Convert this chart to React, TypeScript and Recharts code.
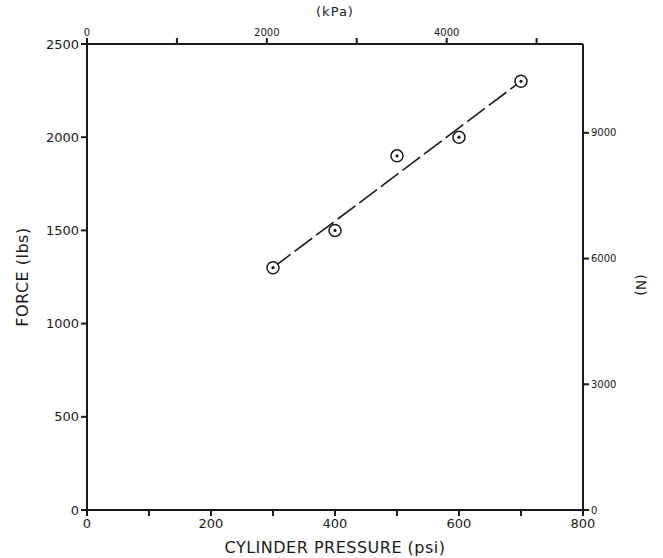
import React from 'react';
import { ScatterChart, Scatter, XAxis, YAxis, Label } from 'recharts';

const pressurePsi = [300, 400, 500, 600, 700];
const forceLbs = [1300, 1500, 1900, 2000, 2300];

const psiTicks = [0, 100, 200, 300, 400, 500, 600, 700, 800];
const psiLabeled = [0, 200, 400, 600, 800];
const kpaTicks = [0, 1000, 2000, 3000, 4000, 5000];
const kpaLabeled = [0, 2000, 4000];
const lbsTicks = [0, 500, 1000, 1500, 2000, 2500];
const newtonTicks = [0, 3000, 6000, 9000];

const PSI_TO_KPA = 6.895;
const LB_TO_N = 4.448;
const PSI_MAX = 800;
const LBS_MAX = 2500;

const points = pressurePsi.map((x, i) => ({ x, y: forceLbs[i] }));
// same measurements in SI units (drawn invisibly so the SI axes are bound)
const pointsSI = pressurePsi.map((x, i) => ({ x: x * PSI_TO_KPA, y: forceLbs[i] * LB_TO_N }));

// least-squares fit line through the measured points
const n = pressurePsi.length;
const mx = pressurePsi.reduce((a, b) => a + b, 0) / n;
const my = forceLbs.reduce((a, b) => a + b, 0) / n;
let sxy = 0;
let sxx = 0;
pressurePsi.forEach((x, i) => {
  sxy += (x - mx) * (forceLbs[i] - my);
  sxx += (x - mx) * (x - mx);
});
const slope = sxy / sxx;
const intercept = my - slope * mx;
const xMin = Math.min(...pressurePsi);
const xMax = Math.max(...pressurePsi);
const fitLine = [
  { x: xMin, y: intercept + slope * xMin },
  { x: xMax, y: intercept + slope * xMax },
];

const FONT = '"DejaVu Sans", "Liberation Sans", sans-serif';
const INK = '#1a1a1a';

const Marker = (props: any) => {
  const { cx, cy } = props;
  if (cx == null || cy == null) return null;
  return (
    <g>
      <circle cx={cx} cy={cy} r={6} fill="#fff" stroke={INK} strokeWidth={1.5} />
      <circle cx={cx} cy={cy} r={1.6} fill={INK} />
    </g>
  );
};

const NoShape = () => <g />;

const axisLine = { stroke: INK, strokeWidth: 2 };
const tickLine = { stroke: INK, strokeWidth: 2 };

export default function App() {
  return (
    <div style={{ position: 'absolute', left: 0, top: 0, background: '#fff' }}>
      <ScatterChart
        width={663}
        height={558}
        margin={{ top: 0, right: 0, bottom: 0, left: 0 }}
      >
        <XAxis
          xAxisId="psi"
          dataKey="x"
          type="number"
          domain={[0, PSI_MAX]}
          ticks={psiTicks}
          interval={0}
          height={48}
          axisLine={axisLine}
          tickLine={tickLine}
          tickSize={6}
          tickMargin={3}
          tickFormatter={(v: number) => (psiLabeled.includes(v) ? String(v) : '')}
          tick={{ fontSize: 13, fill: INK, fontFamily: FONT }}
        >
          <Label
            value="CYLINDER PRESSURE (psi)"
            position="insideBottom"
            offset={5}
            style={{ fontSize: 16, fill: INK, fontFamily: FONT, letterSpacing: 0.5 }}
          />
        </XAxis>
        <XAxis
          xAxisId="kpa"
          dataKey="x"
          orientation="top"
          type="number"
          domain={[0, PSI_MAX * PSI_TO_KPA]}
          allowDataOverflow
          ticks={kpaTicks}
          interval={0}
          height={44}
          axisLine={axisLine}
          tickLine={tickLine}
          tickSize={6}
          tickMargin={2}
          tickFormatter={(v: number) => (kpaLabeled.includes(v) ? String(v) : '')}
          tick={{ fontSize: 10, fill: INK, fontFamily: FONT }}
        >
          <Label
            value="(kPa)"
            position="insideTop"
            offset={7}
            style={{ fontSize: 13, fill: INK, fontFamily: FONT, letterSpacing: 1 }}
          />
        </XAxis>
        <YAxis
          yAxisId="lbs"
          dataKey="y"
          type="number"
          domain={[0, LBS_MAX]}
          ticks={lbsTicks}
          interval={0}
          width={87}
          axisLine={axisLine}
          tickLine={tickLine}
          tickSize={6}
          tickMargin={2}
          tick={{ fontSize: 13, fill: INK, fontFamily: FONT }}
        >
          <Label
            value="FORCE (lbs)"
            angle={-90}
            position="insideLeft"
            offset={22}
            style={{ fontSize: 16, fill: INK, fontFamily: FONT, textAnchor: 'middle', letterSpacing: 0.5 }}
          />
        </YAxis>
        <YAxis
          yAxisId="n"
          dataKey="y"
          orientation="right"
          type="number"
          domain={[0, LBS_MAX * LB_TO_N]}
          allowDataOverflow
          ticks={newtonTicks}
          interval={0}
          width={80}
          axisLine={axisLine}
          tickLine={tickLine}
          tickSize={6}
          tickMargin={2}
          tick={{ fontSize: 10, fill: INK, fontFamily: FONT }}
        >
          <Label
            value="(N)"
            angle={90}
            position="insideRight"
            offset={22}
            dy={8}
            style={{ fontSize: 14, fill: INK, fontFamily: FONT, textAnchor: 'middle' }}
          />
        </YAxis>
        <Scatter
          xAxisId="kpa"
          yAxisId="n"
          data={pointsSI}
          shape={NoShape}
          isAnimationActive={false}
        />
        <Scatter
          xAxisId="psi"
          yAxisId="lbs"
          data={fitLine}
          line={{ stroke: INK, strokeWidth: 1.6, strokeDasharray: '22 5' }}
          lineType="joint"
          shape={NoShape}
          isAnimationActive={false}
        />
        <Scatter
          xAxisId="psi"
          yAxisId="lbs"
          data={points}
          shape={Marker}
          isAnimationActive={false}
        />
      </ScatterChart>
    </div>
  );
}
